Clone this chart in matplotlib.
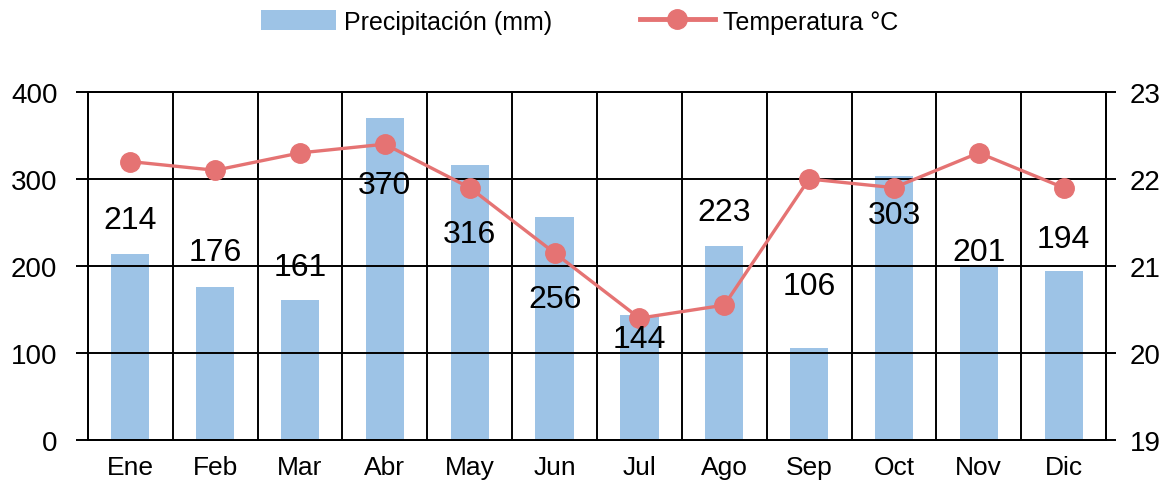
import matplotlib
matplotlib.use('Agg')
import matplotlib.pyplot as plt
import numpy as np
from matplotlib.lines import Line2D
from matplotlib.patches import Patch

plt.rcParams['font.family'] = ['Liberation Sans', 'DejaVu Sans']

# Datos climáticos mensuales
meses = ['Ene', 'Feb', 'Mar', 'Abr', 'May', 'Jun', 'Jul', 'Ago', 'Sep', 'Oct', 'Nov', 'Dic']
precipitacion = [214, 176, 161, 370, 316, 256, 144, 223, 106, 303, 201, 194]
temperatura = [22.2, 22.1, 22.3, 22.4, 21.9, 21.15, 20.4, 20.55, 22.0, 21.9, 22.3, 21.9]

# Desplazamiento vertical de cada etiqueta (px) respecto al tope de la barra
desplaz_etiqueta = [34, 35, 33, -67, -69, -82, -24, 34, 62, -39, 13, 32]

COLOR_BARRA = '#9DC3E6'
COLOR_LINEA = '#E57373'

fig = plt.figure(figsize=(11.76, 4.81), dpi=100)
ax = fig.add_axes([0.0748, 0.0832, 0.8657, 0.7235])
ax2 = ax.twinx()

x = np.arange(len(meses))
ax.bar(x, precipitacion, width=0.45, color=COLOR_BARRA, zorder=1)

ax.set_xlim(-0.5, len(meses) - 0.5)
ax.set_ylim(0, 400)
ax.set_yticks([0, 100, 200, 300, 400])
ax.set_xticks(x)
ax.set_xticklabels(meses)
ax.set_xticks(np.arange(-0.5, len(meses)), minor=True)

# Rejilla negra por encima de las barras
ax.set_axisbelow(False)
ax.grid(axis='y', which='major', color='black', linewidth=1.4)
ax.grid(axis='x', which='minor', color='black', linewidth=1.4)
ax.tick_params(axis='x', which='both', length=0, labelsize=19, pad=11)
ax.tick_params(axis='y', length=9, width=1.4, labelsize=20, pad=13)

for lado in ['left', 'bottom', 'right', 'top']:
    ax.spines[lado].set_linewidth(1.4)
    ax2.spines[lado].set_linewidth(1.4)

ax2.plot(x, temperatura, color=COLOR_LINEA, linewidth=2.4,
         marker='o', markersize=14, zorder=3)
ax2.set_ylim(19, 23)
ax2.set_yticks([19, 20, 21, 22, 23])
ax2.tick_params(axis='y', length=7, width=1.4, labelsize=20, pad=10)

# Etiquetas de valor de precipitación
for xi, val, dy in zip(x, precipitacion, desplaz_etiqueta):
    ax2.annotate(f'{val}', xy=(xi, val), xycoords=ax.transData,
                 xytext=(0, dy), textcoords='offset pixels',
                 ha='center', va='center', fontsize=23, color='black', zorder=5)

handles = [
    Patch(facecolor=COLOR_BARRA, label='Precipitación (mm)'),
    Line2D([0], [0], color=COLOR_LINEA, linewidth=3.5, marker='o',
           markersize=14, label='Temperatura °C'),
]
fig.legend(handles=handles, loc='center', bbox_to_anchor=(0.493, 0.953),
           ncol=2, frameon=False, fontsize=18, handlelength=3.0,
           handleheight=0.9, columnspacing=3.5, handletextpad=0.32)

fig.savefig('out.png', dpi=100)
